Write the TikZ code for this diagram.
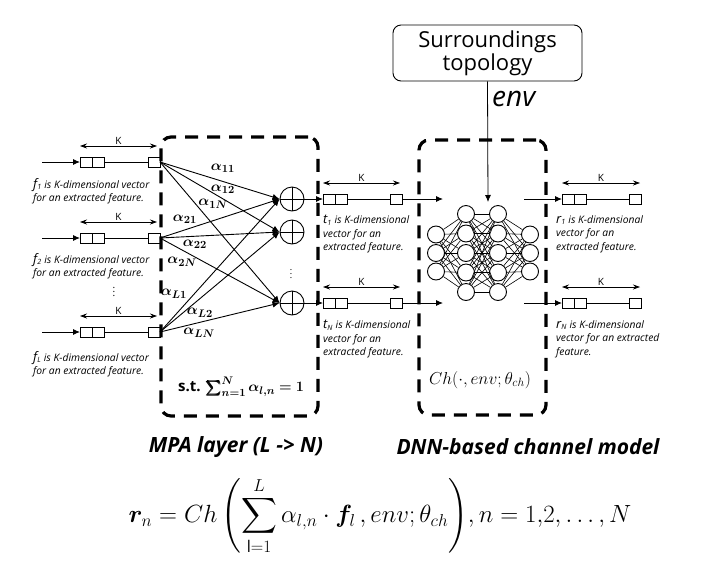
\documentclass[tikz,border=0pt]{standalone}
\usepackage{amsmath,bm}
\usepackage{fontspec}
\setmainfont{Open Sans}
\usetikzlibrary{arrows.meta,calc}
\newcommand{\vecrow}[5]{% name, x double box, y, x small box, K right end
  \node[cell,anchor=west] (#1a) at (#2,#3) {};
  \node[cell,anchor=west] (#1b) at (#1a.east) {};
  \node[cell,anchor=west] (#1c) at (#4,#3) {};
  \draw[thinline] (#1b.east) -- (#1c.west);
  \coordinate (#1kl) at ($(#1a.west)+(0,-16)$);
  \coordinate (#1kr) at ($(#5,#3)+(0,-16)$);
  \draw[karrow] (#1kl) -- node[klabel] (#1k) {K} (#1kr);
}
\begin{document}
\begin{tikzpicture}[x=1pt,y=-1pt,
  cell/.style={draw,line width=0.9pt,minimum width=12pt,minimum height=10pt,inner sep=0pt,outer sep=0pt},
  thinline/.style={line width=0.8pt},
  karrow/.style={{Stealth[length=7pt,width=5pt]}-{Stealth[length=7pt,width=5pt]},line width=0.7pt},
  klabel/.style={above=0pt,inner sep=1pt,font=\fontsize{10}{11}\selectfont},
  farrow/.style={-{Latex[length=7pt,width=6pt]},line width=0.9pt},
  dashbox/.style={draw,line width=3.2pt,dash pattern=on 13pt off 9pt,rounded corners=10pt,inner sep=0pt},
  desc/.style={font=\fontsize{10.3}{13.5}\selectfont\itshape,align=left,anchor=north west,inner sep=0pt},
  sumnode/.style={circle,draw,line width=0.9pt,minimum size=24pt,inner sep=0pt},
  nn/.style={circle,draw,line width=0.9pt,fill=white,minimum size=17pt,inner sep=0pt},
  alab/.style={inner sep=0pt,font=\fontsize{15.5}{16}\selectfont},
  title/.style={font=\fontsize{21}{24}\selectfont\bfseries\itshape}
]
\useasboundingbox (0,0) rectangle (726,574);

% dashed boxes
\node[dashbox,minimum width=157pt,minimum height=279pt] (mpa) at (239.5,276.5) {};
\node[dashbox,minimum width=127pt,minimum height=275pt] (dnn) at (482.5,277.5) {};

% left rows
\vecrow{L1}{80}{162}{148}{157}
\vecrow{L2}{80}{238}{148}{157}
\vecrow{LL}{80}{332}{148}{157}
\coordinate (in1) at (42,162);
\coordinate (in2) at (42,238);
\coordinate (inL) at (42,332);
\draw[farrow] (in1) -- (L1a.west);
\draw[farrow] (in2) -- (L2a.west);
\draw[farrow] (inL) -- (LLa.west);
\node[desc] (d1) at (33,178) {{\fontsize{13}{13}\selectfont f}\textsubscript{1} is K-dimensional vector\\for an extracted feature.};
\node[desc] (d2) at (33,253) {{\fontsize{13}{13}\selectfont f}\textsubscript{2} is K-dimensional vector\\for an extracted feature.};
\node[desc] (dL) at (33,351) {{\fontsize{13}{13}\selectfont f}\textsubscript{\textit{L}} is K-dimensional vector\\for an extracted feature.};
\node[inner sep=0pt,font=\fontsize{10}{10}\selectfont] (vd1) at (114,289) {$\vdots$};

% sum nodes
\node[sumnode] (S1) at (292,199) {};
\node[sumnode] (S2) at (292,232) {};
\node[sumnode] (SN) at (292,303) {};
\foreach \s in {S1,S2,SN}{
  \draw[line width=0.9pt] (\s.north) -- (\s.south);
  \draw[line width=0.9pt] (\s.west) -- (\s.east);
}
\node[inner sep=0pt,font=\fontsize{9}{9}\selectfont] (vd2) at (291,271) {$\vdots$};

\foreach \r in {L1,L2,LL}{
  \foreach \s in {S1,S2,SN}{
    \draw[farrow] (\r c.east) -- (\s.west);
  }
}

% alpha labels
\node[alab] (a11) at (223,168) {$\bm{\alpha_{11}}$};
\node[alab] (a12) at (223,189) {$\bm{\alpha_{12}}$};
\node[alab] (a1N) at (213,204) {$\bm{\alpha_{1N}}$};
\node[alab] (a21) at (185,219) {$\bm{\alpha_{21}}$};
\node[alab] (a22) at (195,244) {$\bm{\alpha_{22}}$};
\node[alab] (a2N) at (182,262) {$\bm{\alpha_{2N}}$};
\node[alab] (aL1) at (174,294) {$\bm{\alpha_{L1}}$};
\node[alab] (aL2) at (200,313) {$\bm{\alpha_{L2}}$};
\node[alab] (aLN) at (199,333) {$\bm{\alpha_{LN}}$};

\node[inner sep=0pt,font=\fontsize{15}{16}\selectfont] (st) at (241,387) {\textbf{s.t.} $\bm{\sum_{n=1}^{N}\alpha_{l,n}=1}$};

% t rows
\vecrow{T1}{323}{199}{390}{400}
\vecrow{TN}{323}{303}{390}{400}
\draw[farrow] (S1.east) -- (T1a.west);
\draw[farrow] (SN.east) -- (TNa.west);
\coordinate (t1e) at (443,199);
\coordinate (tNe) at (443,303);
\draw[farrow] (T1c.east) -- (t1e);
\draw[farrow] (TNc.east) -- (tNe);
\node[desc] (dt1) at (323,215) {{\fontsize{13}{13}\selectfont t}\textsubscript{1} is K-dimensional\\vector for an\\extracted feature.};
\node[desc] (dtN) at (323,320) {{\fontsize{13}{13}\selectfont t}\textsubscript{\textit{N}} is K-dimensional\\vector for an\\extracted feature.};

% r rows
\vecrow{R1}{562}{199}{629}{640}
\vecrow{RN}{562}{303}{629}{640}
\coordinate (r1s) at (524,199);
\coordinate (rNs) at (524,303);
\draw[farrow] (r1s) -- (R1a.west);
\draw[farrow] (rNs) -- (RNa.west);
\node[desc] (dr1) at (556,215) {{\fontsize{13}{13}\selectfont r}\textsubscript{1} is K-dimensional\\vector for an\\extracted feature.};
\node[desc] (drN) at (556,320) {{\fontsize{13}{13}\selectfont r}\textsubscript{\textit{N}} is K-dimensional\\vector for an extracted\\feature.};

% neural network
\foreach \j [count=\k] in {234.5,253,271.5}{
  \node[nn] (n1-\k) at (436,\j) {};
  \node[nn] (n4-\k) at (530,\j) {};
}
\foreach \j [count=\k] in {214,233.5,253,272.5,292}{
  \node[nn] (n2-\k) at (466,\j) {};
  \node[nn] (n3-\k) at (498,\j) {};
}
\foreach \a in {1,2,3}{\foreach \b in {1,...,5}{
  \draw[line width=0.6pt] (n1-\a) -- (n2-\b);
  \draw[line width=0.6pt] (n3-\b) -- (n4-\a);
}}
\foreach \a in {1,...,5}{\foreach \b in {1,...,5}{
  \draw[line width=0.6pt] (n2-\a) -- (n3-\b);
}}

% surroundings
\node[draw,line width=0.9pt,rounded corners=8pt,minimum width=189pt,minimum height=56pt,align=center,
  font=\fontsize{22}{23}\selectfont,inner sep=0pt] (topo) at (487.5,53) {Surroundings\\topology};
\coordinate (envend) at (488,202);
\draw[farrow,line width=0.8pt] (topo.south) -- (envend);
\node[font=\fontsize{28}{30}\selectfont\itshape,inner sep=0pt,anchor=west] (envl) at (492,99) {env};

\node[inner sep=0pt,font=\fontsize{18}{19}\selectfont] (chl) at (480,380) {$Ch(\cdot,env;\theta_{ch})$};

% titles
\node[title] (mpat) at (236,447) {MPA layer (L -> N)};
\node[title] (dnnt) at (528,447) {DNN-based channel model};

% formula
\node[inner sep=0pt,font=\fontsize{23}{28}\selectfont] (form) at (380,516)
  {$\displaystyle \bm{r}_n = Ch\left(\sum_{\mathrm{l}=1}^{L}\alpha_{l,n}\cdot\bm{f}_l\,,env;\theta_{ch}\right)\!,n=1{,}2,\dots,N$};
\end{tikzpicture}
\end{document}
